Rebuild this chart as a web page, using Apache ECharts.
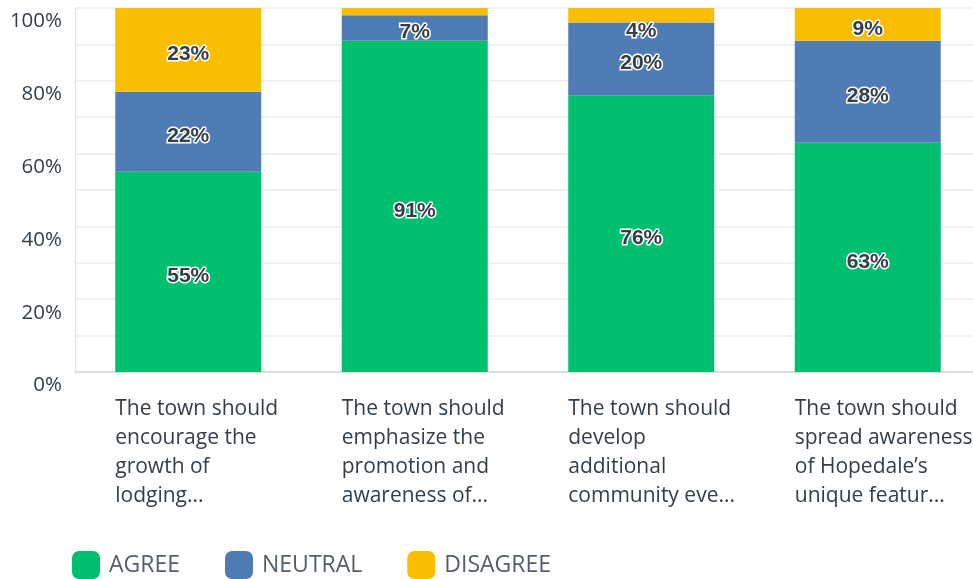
<!DOCTYPE html>
<html><head><meta charset="utf-8">
<script src="https://cdn.jsdelivr.net/npm/echarts@6/dist/echarts.min.js"></script>
<style>html,body{margin:0;padding:0;background:#fff;overflow:hidden;width:973px;height:579px}#c{width:985px;height:579px}</style>
</head><body><div id="c"></div>
<script>
const categories = [
  "The town should\nencourage the\ngrowth of\nlodging...",
  "The town should\nemphasize the\npromotion and\nawareness of...",
  "The town should\ndevelop\nadditional\ncommunity eve...",
  "The town should\nspread awareness\nof Hopedale\u2019s\nunique featur..."
];
const seriesNames = ["AGREE", "NEUTRAL", "DISAGREE"];
const agree = [55, 91, 76, 63];
const neutral = [22, 7, 20, 28];
const disagree = [23, 2, 4, 9];
const yTicks = [0, 20, 40, 60, 80, 100];
const colors = ["#00bf6f", "#507cb6", "#f9be00"];

const chart = echarts.init(document.getElementById('c'));
const valStyle = {
  fontFamily: 'Liberation Sans, Arial, sans-serif',
  fontWeight: 'bold',
  fontSize: 21,
  color: '#333e48',
  textBorderColor: '#fff',
  textBorderWidth: 3
};
const labelStyle = {
  show: true,
  position: 'inside',
  formatter: p => p.value >= 3 ? (p.value < 6 && p.seriesIndex === 2 ? '{t|' : '{v|') + p.value + '%}' : '',
  rich: {
    v: Object.assign({ padding: [9, 0, 0, 0] }, valStyle),
    t: Object.assign({ padding: [32, 0, 0, 0] }, valStyle)
  }
};
const values = [agree, neutral, disagree];
const series = seriesNames.map((n, i) => ({
  name: n,
  type: 'bar',
  stack: 'total',
  barWidth: 146,
  itemStyle: { color: colors[i] },
  label: labelStyle,
  data: values[i]
}));

chart.setOption({
  animation: false,
  grid: { left: 75, right: 4, top: 8, bottom: 207, containLabel: false },
  xAxis: {
    type: 'category',
    data: categories,
    axisLine: { lineStyle: { color: '#d6d6d6', width: 1.5 } },
    axisTick: { show: false },
    axisLabel: {
      margin: 23,
      interval: 0,
      formatter: v => v.split('\n').map(s => '{a|' + s + '}').join('\n'),
      rich: {
        a: { width: 146, align: 'left', fontFamily: 'Open Sans, sans-serif', fontSize: 21, lineHeight: 29, color: '#333e48' }
      }
    }
  },
  yAxis: {
    type: 'value',
    min: 0, max: 100, interval: 10,
    axisLine: { show: true, lineStyle: { color: '#e3e3e3' } },
    axisTick: { show: false },
    splitLine: { lineStyle: { color: '#ececec', width: 1.5 } },
    axisLabel: {
      margin: 13,
      verticalAlign: 'top',
      padding: [3, 0, 0, 0],
      fontFamily: 'Open Sans, sans-serif',
      fontSize: 20.5,
      color: '#333e48',
      formatter: v => yTicks.includes(v) ? v + '%' : ''
    }
  },
  legend: {
    left: 72, top: 551,
    padding: 0,
    itemWidth: 28, itemHeight: 28,
    itemGap: 45,
    icon: 'roundRect',
    data: seriesNames,
    textStyle: { fontFamily: 'Open Sans, sans-serif', fontSize: 23, color: '#545e68', padding: [3, 0, 0, 4] }
  },
  series: series
});
</script></body></html>
